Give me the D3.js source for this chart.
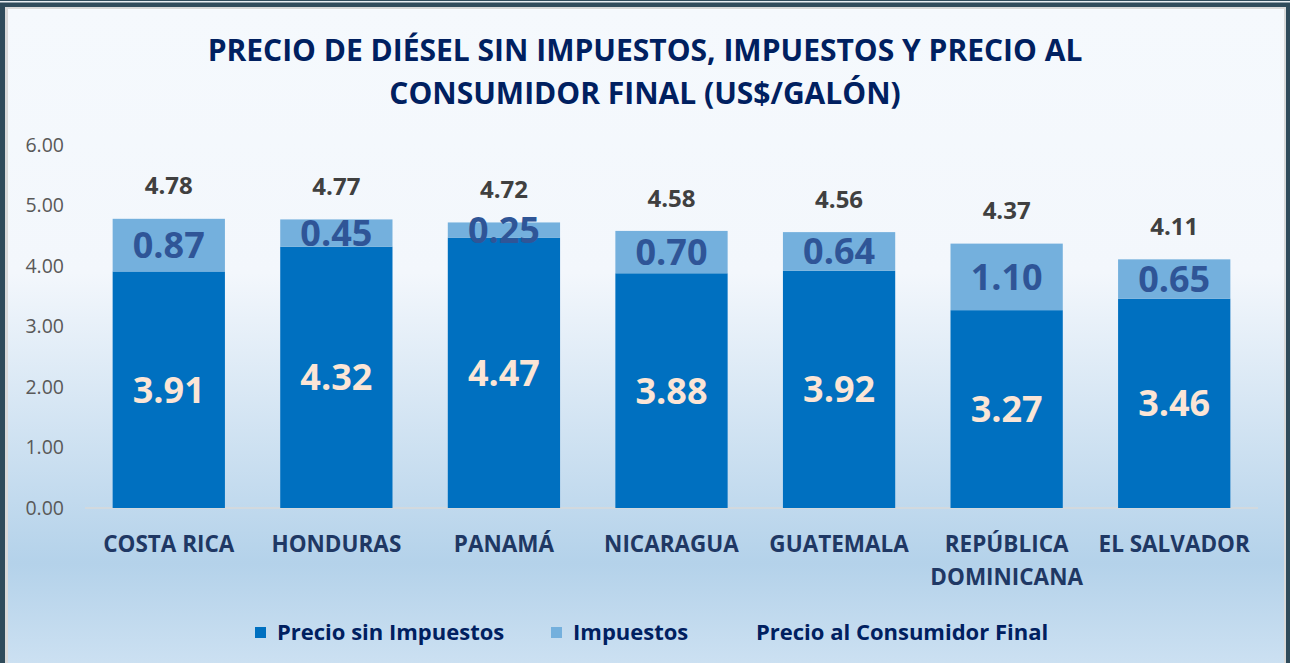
<!DOCTYPE html>
<html>
<head>
<meta charset="utf-8">
<script src="https://cdn.jsdelivr.net/npm/d3@7"></script>
<style>
  html, body { margin: 0; padding: 0; background: #2F4B5B; }
  svg { display: block; font-family: "Open Sans", Lato, sans-serif; }
</style>
</head>
<body>
<div id="chart"></div>
<script>
var paises = ["COSTA RICA", "HONDURAS", "PANAMÁ", "NICARAGUA", "GUATEMALA", "REPÚBLICA DOMINICANA", "EL SALVADOR"];
var sinImpuestos = [3.91, 4.32, 4.47, 3.88, 3.92, 3.27, 3.46];
var impuestos = [0.87, 0.45, 0.25, 0.70, 0.64, 1.10, 0.65];
var consumidorFinal = [4.78, 4.77, 4.72, 4.58, 4.56, 4.37, 4.11];
var yTicks = [0, 1, 2, 3, 4, 5, 6];
var series = ["Precio sin Impuestos", "Impuestos", "Precio al Consumidor Final"];

var W = 1290, H = 663;
var colores = {sin: "#0070C0", imp: "#74B0DD"};

var svg = d3.select("#chart").append("svg")
    .attr("width", W)
    .attr("height", H);

// fondo degradado
var defs = svg.append("defs");
var grad = defs.append("linearGradient")
    .attr("id", "fondo")
    .attr("x1", 0).attr("y1", 0).attr("x2", 0).attr("y2", 1);
grad.append("stop").attr("offset", "0").attr("stop-color", "#F5F9FD");
grad.append("stop").attr("offset", "0.40").attr("stop-color", "#F3F7FC");
grad.append("stop").attr("offset", "0.84").attr("stop-color", "#B4D2EA");
grad.append("stop").attr("offset", "1").attr("stop-color", "#CDE1F2");

// marco
svg.append("rect").attr("x", 0).attr("y", 0).attr("width", W).attr("height", H).attr("fill", "#2F4B5B");
svg.append("rect").attr("x", 0).attr("y", 1).attr("width", W).attr("height", 1.5).attr("fill", "#E8EEF2");
svg.append("rect").attr("x", 5).attr("y", 7).attr("width", 1281).attr("height", 660).attr("fill", "#D9D9D9");
svg.append("rect").attr("x", 8).attr("y", 9).attr("width", 1276).attr("height", 660).attr("fill", "url(#fondo)");

// titulo
var titulo = svg.append("text")
    .attr("text-anchor", "middle")
    .attr("fill", "#002060")
    .style("font-weight", "bold")
    .style("font-size", "30px");
titulo.append("tspan").attr("x", 645).attr("y", 61).text("PRECIO DE DIÉSEL SIN IMPUESTOS, IMPUESTOS Y PRECIO AL");
titulo.append("tspan").attr("x", 645).attr("y", 104).text("CONSUMIDOR FINAL (US$/GALÓN)");

var x = d3.scaleBand()
    .domain(paises)
    .range([85, 1258])
    .paddingInner(0.33)
    .paddingOuter(0.165);

var y = d3.scaleLinear()
    .domain([0, 6])
    .range([508, 145]);

// eje y
var yAxis = svg.append("g")
    .attr("transform", "translate(64,0)")
    .call(d3.axisLeft(y).tickValues(yTicks).tickSize(0).tickPadding(0).tickFormat(d3.format(".2f")));
yAxis.select(".domain").remove();
yAxis.selectAll("text")
    .attr("fill", "#595959")
    .style("font-size", "19.5px")
    .style("font-family", "'Open Sans', Lato, sans-serif");

// linea base
svg.append("line")
    .attr("x1", 85).attr("x2", 1258)
    .attr("y1", y(0)).attr("y2", y(0))
    .attr("stroke", "#D9D9D9")
    .attr("stroke-width", 1.5);

var tabla = paises.map(function(p, i) {
    return {pais: p, sin: sinImpuestos[i], imp: impuestos[i], total: consumidorFinal[i]};
});
var stack = d3.stack().keys(["sin", "imp"]);
var capas = stack(tabla);

var g = svg.append("g");
capas.forEach(function(capa) {
    g.selectAll(".bar-" + capa.key)
        .data(capa)
        .enter().append("rect")
        .attr("class", "bar-" + capa.key)
        .attr("x", function(d) { return x(d.data.pais); })
        .attr("width", x.bandwidth())
        .attr("y", function(d) { return y(d[1]); })
        .attr("height", function(d) { return y(d[0]) - y(d[1]); })
        .attr("fill", colores[capa.key]);
});

// etiquetas precio sin impuestos
g.selectAll(".lbl-sin")
    .data(capas[0])
    .enter().append("text")
    .attr("x", function(d) { return x(d.data.pais) + x.bandwidth() / 2; })
    .attr("y", function(d) { return (y(d[0]) + y(d[1])) / 2; })
    .attr("dy", "0.36em")
    .attr("text-anchor", "middle")
    .attr("fill", "#FBE5D6")
    .style("font-weight", "bold")
    .style("font-size", "36px")
    .text(function(d) { return d.data.sin.toFixed(2); });

// etiquetas impuestos
g.selectAll(".lbl-imp")
    .data(capas[1])
    .enter().append("text")
    .attr("x", function(d) { return x(d.data.pais) + x.bandwidth() / 2; })
    .attr("y", function(d) { return (y(d[0]) + y(d[1])) / 2; })
    .attr("dy", "0.36em")
    .attr("text-anchor", "middle")
    .attr("fill", "#2F5597")
    .style("font-weight", "bold")
    .style("font-size", "36px")
    .text(function(d) { return d.data.imp.toFixed(2); });

// etiquetas precio al consumidor final
g.selectAll(".lbl-total")
    .data(tabla)
    .enter().append("text")
    .attr("x", function(d) { return x(d.pais) + x.bandwidth() / 2; })
    .attr("y", function(d) { return y(d.total) - 33; })
    .attr("dy", "0.36em")
    .attr("text-anchor", "middle")
    .attr("fill", "#404040")
    .style("font-weight", "bold")
    .style("font-size", "24px")
    .text(function(d) { return d.total.toFixed(2); });

// etiquetas de categoria
var cats = svg.append("g").selectAll("text")
    .data(paises)
    .enter().append("text")
    .attr("text-anchor", "middle")
    .attr("fill", "#1F3864")
    .style("font-weight", "bold")
    .style("font-size", "22.5px");
cats.each(function(p) {
    var partes = p === "REPÚBLICA DOMINICANA" ? ["REPÚBLICA", "DOMINICANA"] : [p];
    var t = d3.select(this);
    partes.forEach(function(s, k) {
        t.append("tspan")
            .attr("x", x(p) + x.bandwidth() / 2)
            .attr("y", 552 + k * 33)
            .text(s);
    });
});

// leyenda
var ley = svg.append("g");
var leyItems = [
    {nombre: series[0], color: colores.sin, x: 255},
    {nombre: series[1], color: colores.imp, x: 551},
    {nombre: series[2], color: null, x: 756}
];
leyItems.forEach(function(it) {
    if (it.color) {
        ley.append("rect")
            .attr("x", it.x).attr("y", 627)
            .attr("width", 11).attr("height", 11)
            .attr("fill", it.color);
    }
    ley.append("text")
        .attr("x", it.color ? it.x + 22 : it.x)
        .attr("y", 640)
        .attr("fill", "#002060")
        .style("font-weight", "bold")
        .style("font-size", "22px")
        .text(it.nombre);
});
</script>
</body>
</html>
